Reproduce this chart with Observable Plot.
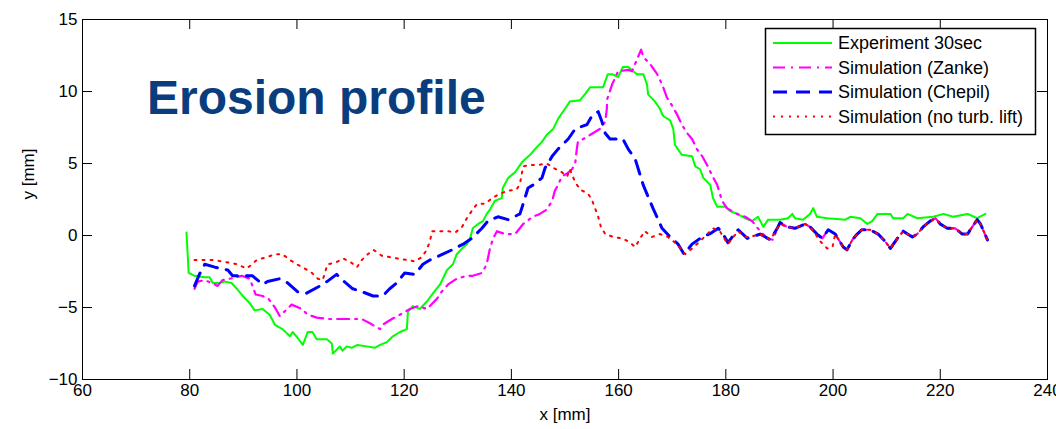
<!DOCTYPE html>
<html>
<head>
<meta charset="utf-8">
<script src="https://cdn.jsdelivr.net/npm/d3@7"></script>
<script src="https://cdn.jsdelivr.net/npm/@observablehq/plot@0.6"></script>
<style>
  html, body { margin: 0; padding: 0; background: #fff; }
  #wrap { position: relative; width: 1056px; height: 429px; overflow: hidden; font-family: "Liberation Sans", Arial, Helvetica, sans-serif; }
  #title { position: absolute; left: 147px; top: 74px; font-size: 48px; line-height: 1; font-weight: bold; color: #0a3d7e; white-space: nowrap; }
  #legend { position: absolute; left: 764px; top: 27px; }
</style>
</head>
<body>
<div id="wrap"></div>
<script>
// ---- data ----
const xTicks = [60, 80, 100, 120, 140, 160, 180, 200, 220, 240];
const yTicks = [-10, -5, 0, 5, 10, 15];
const seriesNames = ["Experiment 30sec", "Simulation (Zanke)", "Simulation (Chepil)", "Simulation (no turb. lift)"];

const experiment = [
  [79.4,0.2],[79.8,-2.6],[80.9,-2.8],[82.8,-2.9],[83.7,-2.9],[84.3,-3.3],[85.6,-3.3],[86.5,-3.2],[87.8,-3.3],[88.8,-3.7],
  [89.9,-4.2],[91.2,-4.7],[92.1,-5.2],[93.6,-5.1],[94.9,-5.5],[95.9,-6.2],[97.3,-6.5],[98.7,-7.0],[99.2,-6.7],[100.1,-7.1],
  [101.1,-7.6],[102.0,-6.7],[102.9,-6.7],[103.7,-7.2],[105.6,-7.2],[106.5,-7.5],[106.7,-8.2],[108.0,-7.7],[108.5,-8.0],[109.3,-7.7],
  [110.2,-7.8],[111.3,-7.6],[113.0,-7.7],[114.5,-7.8],[115.5,-7.6],[116.8,-7.4],[117.9,-7.0],[119.2,-6.7],[120.5,-6.5],[120.7,-5.3],
  [121.6,-4.9],[122.9,-5.1],[124.2,-4.6],[125.4,-4.0],[126.7,-3.4],[128.0,-2.4],[129.1,-2.0],[129.8,-1.3],[130.8,-0.9],[131.7,-0.6],
  [132.3,-0.2],[132.8,0.5],[133.8,0.8],[134.7,1.0],[135.4,1.5],[136.0,1.8],[136.9,2.4],[138.2,2.6],[138.4,3.3],[139.4,4.0],
  [140.7,4.4],[142.0,5.1],[143.5,5.6],[144.4,6.0],[145.7,6.5],[146.6,7.0],[147.8,7.4],[148.7,8.1],[150.0,8.8],[150.9,9.3],
  [152.8,9.4],[153.7,9.8],[154.7,10.3],[157.1,10.3],[158.0,11.2],[158.8,11.2],[159.9,11.0],[160.8,11.7],[161.8,11.7],[163.4,11.2],
  [164.6,11.2],[165.3,10.5],[165.5,9.8],[166.8,9.3],[167.7,8.8],[168.3,8.3],[169.6,8.0],[170.2,7.4],[170.5,6.3],[171.8,5.6],
  [173.7,5.5],[174.3,4.8],[175.2,4.6],[175.8,4.0],[177.1,3.5],[177.6,2.6],[178.4,2.0],[179.9,2.0],[180.8,1.7],[182.1,1.5],
  [183.6,1.2],[184.9,1.0],[186.0,1.3],[187.0,0.6],[187.9,1.1],[190.1,1.1],[191.6,1.2],[192.4,1.5],[192.9,1.2],[194.4,1.1],
  [195.7,1.5],[196.3,1.9],[197.0,1.3],[198.9,1.2],[202.3,1.1],[203.2,1.3],[205.1,1.2],[206.4,0.8],[207.3,1.0],[208.3,1.5],
  [210.7,1.5],[211.2,1.2],[213.1,1.2],[213.9,1.5],[215.7,1.2],[218.7,1.3],[220.6,1.5],[222.4,1.3],[225.1,1.5],[226.9,1.2],[228.4,1.5]
];

const zanke = [
  [80.9,-3.7],[81.5,-3.2],[82.8,-3.1],[84.1,-3.3],[85.2,-3.5],[86.1,-3.1],[87.5,-3.0],[89.7,-2.8],[91.2,-3.0],[91.6,-3.4],
  [92.3,-4.1],[93.6,-4.2],[94.7,-4.4],[95.9,-5.0],[96.8,-5.6],[97.9,-5.2],[99.0,-4.8],[100.9,-5.1],[102.0,-5.5],[103.7,-5.7],
  [105.7,-5.8],[108.5,-5.8],[110.8,-5.8],[112.1,-5.8],[113.6,-6.1],[115.5,-6.5],[116.0,-6.2],[117.7,-5.8],[119.2,-5.5],[121.1,-5.1],
  [122.6,-4.9],[124.2,-5.1],[124.8,-4.9],[126.1,-4.4],[127.0,-3.9],[128.2,-3.4],[129.8,-3.0],[131.7,-2.8],[132.8,-2.8],[134.5,-2.6],
  [135.4,-2.0],[136.0,-0.9],[136.6,-0.2],[137.3,0.3],[138.8,0.1],[140.7,0.1],[142.2,0.8],[144.0,1.3],[145.3,1.5],[146.6,1.8],
  [147.6,2.4],[148.1,3.1],[148.7,3.5],[149.4,4.1],[150.4,4.3],[151.3,4.6],[151.9,5.0],[152.2,6.0],[152.4,6.5],[153.4,6.7],
  [155.2,7.1],[156.5,7.4],[157.5,7.9],[157.8,8.8],[157.9,9.5],[158.8,10.5],[159.3,10.9],[159.9,11.4],[161.8,11.5],[162.5,11.4],
  [163.4,12.2],[164.2,12.9],[164.6,12.4],[165.9,11.9],[167.2,11.2],[168.1,10.5],[169.0,9.6],[170.0,9.0],[170.9,8.4],[171.8,7.7],
  [172.8,7.1],[173.7,6.7],[174.6,6.0],[175.6,5.5],[176.5,4.9],[177.4,4.2],[178.4,3.5],[179.3,2.4],[180.2,1.9],[182.1,1.5],
  [183.6,1.3],[184.9,1.0],[186.4,0.3],[187.7,-0.2],[188.8,-0.3],[189.6,0.5],[190.1,0.9],[191.4,0.6],[192.9,0.5],[194.8,0.8],
  [195.7,0.6],[197.0,0.1],[198.0,-0.2],[199.1,0.4],[200.4,0.1],[201.9,-0.8],[202.6,-1.0],[203.6,-0.3],[204.5,0.1],[205.4,0.4],
  [206.9,0.4],[208.4,0.1],[209.7,-0.4],[210.7,-0.9],[212.0,-0.2],[213.1,0.3],[213.9,0.1],[214.8,-0.1],[215.7,0.1],[216.8,0.6],
  [218.1,1.0],[219.1,1.2],[220.0,0.8],[221.3,0.5],[222.8,0.5],[224.1,0.1],[225.1,0.1],[225.6,0.4],[226.9,1.1],[227.5,0.8],[228.8,-0.3]
];

const chepil = [
  [80.9,-3.5],[81.8,-2.7],[82.8,-2.0],[84.7,-2.2],[87.1,-2.4],[88.0,-2.8],[90.3,-2.8],[91.7,-2.8],[93.6,-3.4],[94.5,-3.2],
  [96.8,-3.0],[98.3,-3.3],[100.1,-3.9],[101.8,-4.0],[104.3,-3.5],[105.6,-3.2],[107.4,-2.7],[108.5,-3.1],[110.4,-3.7],[112.1,-3.9],
  [114.2,-4.2],[116.0,-4.2],[117.3,-3.7],[118.6,-3.3],[120.1,-2.6],[122.0,-2.7],[123.5,-2.0],[124.8,-1.7],[127.2,-1.3],[128.9,-1.0],
  [131.0,-0.6],[132.6,-0.2],[134.5,0.5],[135.6,1.0],[137.5,1.3],[139.4,1.1],[141.6,1.5],[142.2,2.2],[143.1,3.3],[144.0,3.5],
  [145.7,4.0],[146.3,4.7],[147.6,5.5],[148.7,6.0],[150.6,6.7],[151.9,7.4],[154.1,7.7],[155.0,8.3],[156.2,8.6],[156.9,7.9],
  [157.5,7.1],[158.4,6.7],[159.0,6.7],[160.8,6.7],[161.8,6.0],[163.1,5.3],[164.6,3.5],[166.4,1.9],[168.1,0.5],[169.6,-0.1],
  [171.1,-0.6],[172.2,-1.3],[173.7,-0.6],[175.2,-0.2],[177.4,0.2],[178.6,0.5],[179.5,0.1],[180.4,-0.5],[181.4,0.0],[182.3,0.4],
  [184.0,-0.2],[186.4,0.1],[188.3,-0.3],[189.6,0.5],[190.1,0.9],[191.4,0.6],[192.9,0.5],[194.8,0.8],[195.7,0.6],[197.0,0.1],
  [198.0,-0.2],[199.1,0.4],[200.4,0.1],[201.9,-0.8],[202.6,-1.0],[203.6,-0.3],[204.5,0.1],[205.4,0.4],[206.9,0.4],[208.4,0.1],
  [209.7,-0.4],[210.7,-0.9],[212.0,-0.2],[213.1,0.3],[213.9,0.1],[214.8,-0.1],[215.7,0.1],[216.8,0.6],[218.1,1.0],[219.1,1.2],
  [220.0,0.8],[221.3,0.5],[222.8,0.5],[224.1,0.1],[225.1,0.1],[225.6,0.4],[226.9,1.1],[227.5,0.8],[228.8,-0.3]
];

const noTurbLift = [
  [80.9,-1.7],[82.8,-1.7],[84.3,-1.7],[86.0,-1.8],[87.5,-1.9],[88.9,-2.0],[90.6,-2.3],[91.6,-2.0],[92.5,-1.7],[94.4,-1.5],
  [95.9,-1.3],[97.3,-1.3],[98.7,-1.7],[100.0,-2.0],[101.5,-2.3],[102.8,-2.6],[103.9,-3.0],[104.8,-3.1],[105.7,-2.0],[107.1,-1.9],
  [108.7,-1.6],[110.2,-1.9],[111.2,-2.2],[112.1,-1.7],[113.2,-1.3],[114.3,-1.0],[115.8,-1.4],[117.3,-1.5],[118.8,-1.6],[120.5,-1.7],
  [122.0,-1.8],[123.3,-1.5],[124.2,-1.0],[124.8,-0.4],[125.2,0.3],[126.7,0.3],[128.2,0.3],[129.5,0.2],[130.8,0.6],[131.7,1.2],
  [132.6,1.7],[133.6,2.2],[135.1,2.2],[136.4,2.6],[137.9,2.9],[139.2,3.1],[141.0,3.2],[141.6,3.6],[142.2,4.8],[143.5,4.9],
  [145.0,4.9],[146.6,5.0],[147.8,4.7],[149.4,4.4],[150.4,4.1],[150.9,4.6],[151.9,3.7],[152.8,3.2],[154.3,2.9],[155.0,2.5],
  [155.6,1.9],[156.2,1.3],[156.7,0.6],[157.5,0.1],[159.0,-0.1],[160.6,-0.2],[161.8,-0.4],[163.1,-0.8],[164.0,-0.2],[164.9,0.3],
  [166.2,-0.1],[167.7,0.1],[169.2,-0.1],[170.9,-0.6],[172.4,-1.3],[173.7,-0.9],[175.2,-0.4],[177.6,0.5],[178.9,0.3],[179.5,-0.1],
  [180.4,-0.6],[181.4,-0.1],[182.3,0.3],[183.6,-0.1],[184.5,-0.1],[186.4,0.1],[188.3,-0.3],[189.6,0.5],[190.1,0.8],[191.4,0.6],
  [192.9,0.5],[194.8,0.8],[195.7,0.6],[196.7,0.1],[197.6,-0.4],[198.9,-0.9],[199.9,-0.8],[200.4,0.1],[201.9,-0.8],[202.6,-1.0],
  [203.6,-0.3],[204.5,0.1],[205.4,0.4],[206.9,0.4],[208.4,0.1],[209.7,-0.4],[210.7,-0.9],[212.0,-0.2],[213.1,0.3],[213.9,0.1],
  [214.8,-0.1],[215.7,0.1],[216.8,0.6],[218.1,1.0],[219.1,1.2],[220.0,0.8],[221.3,0.5],[222.8,0.5],[224.1,0.1],[225.1,0.1],
  [225.6,0.4],[226.9,1.1],[227.5,0.8],[228.8,-0.3]
];

// ---- styles ----
const seriesData = [experiment, zanke, chepil, noTurbLift];
const seriesStyle = [
  {stroke: "#00ff00", width: 2,   dash: null},
  {stroke: "#ff00ff", width: 2.2, dash: "12 6 2 6"},
  {stroke: "#0000ff", width: 3,   dash: "14 9"},
  {stroke: "#ff0000", width: 2,   dash: "2 6"}
];

const W = 1056, H = 429;
const mL = 82, mR = 9, mT = 19, mB = 50;
const innerW = W - mL - mR, innerH = H - mT - mB;
const tickLen = 10;
const font = "'Liberation Sans', Arial, Helvetica, sans-serif";

const lineMarks = seriesData.map((data, i) => Plot.line(data, {
  x: d => d[0], y: d => d[1],
  stroke: seriesStyle[i].stroke,
  strokeWidth: seriesStyle[i].width,
  strokeDasharray: seriesStyle[i].dash,
  strokeLinejoin: "round"
}));

const chart = Plot.plot({
  width: W, height: H,
  marginLeft: mL, marginRight: mR, marginTop: mT, marginBottom: mB,
  style: {fontFamily: font, fontSize: "17px", color: "#000", background: "#fff", overflow: "visible"},
  x: {domain: [60, 240], label: null},
  y: {domain: [-10, 15], label: null},
  marks: [
    ...lineMarks,
    Plot.tickX(xTicks, {x: d => d, stroke: "#000", strokeWidth: 1, insetTop: innerH - tickLen}),
    Plot.tickX(xTicks, {x: d => d, stroke: "#000", strokeWidth: 1, insetBottom: innerH - tickLen}),
    Plot.tickY(yTicks, {y: d => d, stroke: "#000", strokeWidth: 1, insetRight: innerW - tickLen}),
    Plot.tickY(yTicks, {y: d => d, stroke: "#000", strokeWidth: 1, insetLeft: innerW - tickLen}),
    Plot.frame({stroke: "#000", strokeWidth: 1}),
    Plot.axisX(xTicks, {tickSize: 0, tickPadding: 4, fontSize: 17, label: null}),
    Plot.axisY(yTicks, {tickSize: 0, tickPadding: 5, fontSize: 17, label: null}),
    Plot.text(["x [mm]"], {text: d => d, frameAnchor: "bottom", dy: 40, fontSize: 17}),
    Plot.text(["y [mm]"], {text: d => d, frameAnchor: "left", dx: -54, rotate: -90, fontSize: 17})
  ]
});

const wrap = document.getElementById("wrap");
wrap.appendChild(chart);

// title overlay
const title = document.createElement("div");
title.id = "title";
title.textContent = "Erosion profile";
wrap.appendChild(title);

// legend overlay
const lg = d3.create("svg").attr("id", "legend").attr("width", 274).attr("height", 110)
  .style("position", "absolute").style("left", "764px").style("top", "27px");
lg.append("rect").attr("x", 1.5).attr("y", 1.5).attr("width", 270).attr("height", 106)
  .attr("fill", "#fff").attr("stroke", "#000").attr("stroke-width", 1.5);
const rowY = [16, 40.5, 65, 89.5];
seriesNames.forEach((name, i) => {
  lg.append("line").attr("x1", 9).attr("x2", 68).attr("y1", rowY[i]).attr("y2", rowY[i])
    .attr("stroke", seriesStyle[i].stroke).attr("stroke-width", seriesStyle[i].width)
    .attr("stroke-dasharray", seriesStyle[i].dash);
  lg.append("text").attr("x", 74).attr("y", rowY[i]).attr("dy", "0.35em")
    .attr("font-family", font).attr("font-size", 18).attr("fill", "#000").text(name);
});
wrap.appendChild(lg.node());
</script>
</body>
</html>
